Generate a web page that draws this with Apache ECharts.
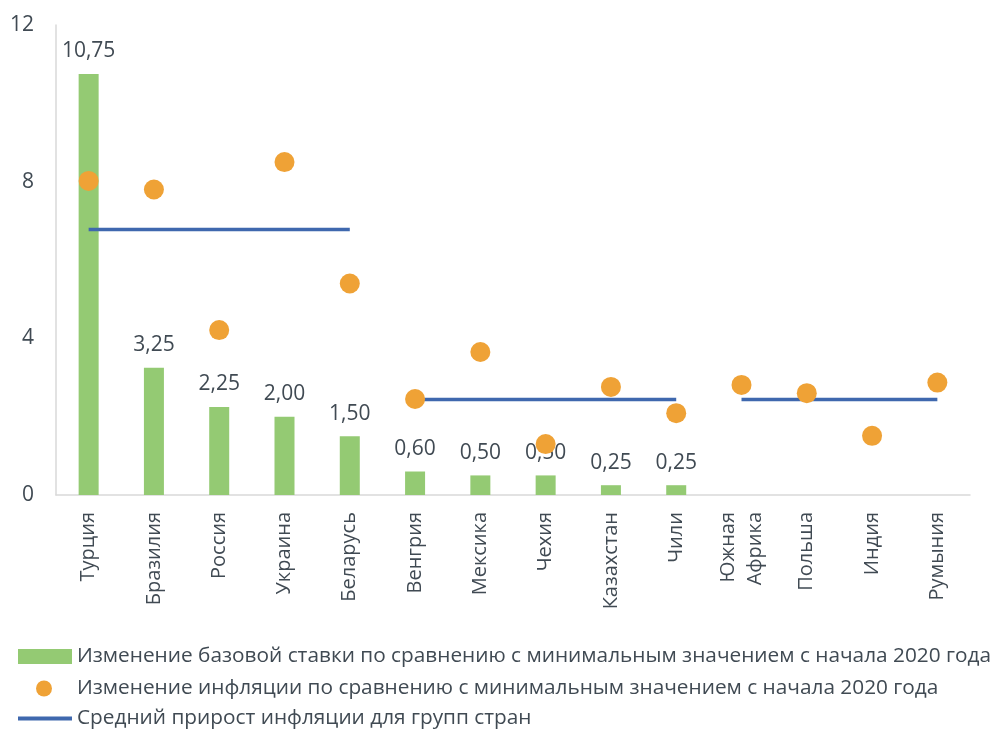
<!DOCTYPE html>
<html>
<head>
<meta charset="utf-8">
<script src="https://cdn.jsdelivr.net/npm/echarts@6/dist/echarts.min.js"></script>
<style>html,body{margin:0;padding:0;background:#fff;}#c{width:992px;height:729px;}</style>
</head>
<body>
<div id="c"></div>
<script>
const categories = ['Турция','Бразилия','Россия','Украина','Беларусь','Венгрия','Мексика','Чехия','Казахстан','Чили','Южная\nАфрика','Польша','Индия','Румыния'];
const rateChange = [10.75, 3.25, 2.25, 2.00, 1.50, 0.60, 0.50, 0.50, 0.25, 0.25, null, null, null, null];
const inflationChange = [8.02, 7.80, 4.21, 8.50, 5.40, 2.45, 3.65, 1.30, 2.76, 2.09, 2.81, 2.60, 1.51, 2.87];
const groupAverage1 = [6.78, 6.78, 6.78, 6.78, 6.78, null, null, null, null, null, null, null, null, null];
const groupAverage2 = [null, null, null, null, null, 2.44, 2.44, 2.44, 2.44, 2.44, null, null, null, null];
const groupAverage3 = [null, null, null, null, null, null, null, null, null, null, 2.44, 2.44, 2.44, 2.44];
const yTicks = [0, 4, 8, 12];
const seriesNames = [
  'Изменение базовой ставки по сравнению с минимальным значением с начала 2020 года',
  'Изменение инфляции по сравнению с минимальным значением с начала 2020 года',
  'Средний прирост инфляции для групп стран'
];

const textColor = '#404a53';
const font = 'Open Sans';
const lineColor = '#3f68ae';
const chart = echarts.init(document.getElementById('c'), null, {renderer: 'canvas'});

const avgSeries = [groupAverage1, groupAverage2, groupAverage3].map(d => ({
  name: seriesNames[2], type: 'line', data: d, symbol: 'none', showSymbol: false, z: 3,
  connectNulls: false,
  lineStyle: {color: lineColor, width: 3.5}, itemStyle: {color: lineColor}
}));

const legendIcons = ['rect', 'circle', 'path://M0,0 L54,0 L54,4 L0,4 Z'];
const legendTops = [646, 678, 708];
const legendLefts = [18, 36, 18];
const legendSizes = [[54, 15], [16, 16], [54, 15]];
const legendTextPad = [0, 20, 0];
const legends = seriesNames.map((n, i) => ({
  orient: 'vertical', left: legendLefts[i], top: legendTops[i], padding: 0,
  itemWidth: legendSizes[i][0], itemHeight: legendSizes[i][1], itemGap: 0,
  selectedMode: false,
  textStyle: {fontFamily: font, fontSize: 20.8, lineHeight: 20, color: textColor, padding: [0, 0, 0, legendTextPad[i]]},
  data: [{name: n, icon: legendIcons[i]}]
}));

chart.setOption({
  animation: false,
  backgroundColor: '#fff',
  textStyle: {fontFamily: font, color: textColor},
  grid: {left: 56, right: 22, top: 25, bottom: 234},
  legend: legends,
  xAxis: {
    type: 'category', data: categories,
    axisLine: {lineStyle: {color: '#d9d9d9', width: 1.5}},
    axisTick: {show: false},
    axisLabel: {rotate: 90, interval: 0, margin: 17, fontSize: 20, color: textColor, fontFamily: font, lineHeight: 27}
  },
  yAxis: {
    type: 'value', min: 0, max: 12, interval: 4,
    axisLine: {show: true, lineStyle: {color: '#d9d9d9', width: 1.5}},
    axisTick: {show: false},
    splitLine: {show: false},
    axisLabel: {margin: 22, fontSize: 21, color: textColor, fontFamily: font,
      formatter: v => yTicks.includes(v) ? String(v) : ''}
  },
  series: [
    {
      name: seriesNames[0], type: 'bar', data: rateChange, barWidth: 20, z: 2,
      itemStyle: {color: '#94ca73'},
      label: {show: true, position: 'top', distance: 12, fontSize: 21, color: textColor, fontFamily: font,
        formatter: p => p.value == null ? '' : p.value.toFixed(2).replace('.', ',')}
    },
    ...avgSeries,
    {
      name: seriesNames[1], type: 'scatter', data: inflationChange, symbolSize: 20, z: 4,
      itemStyle: {color: '#efa236', opacity: 1}
    }
  ]
});
</script>
</body>
</html>
